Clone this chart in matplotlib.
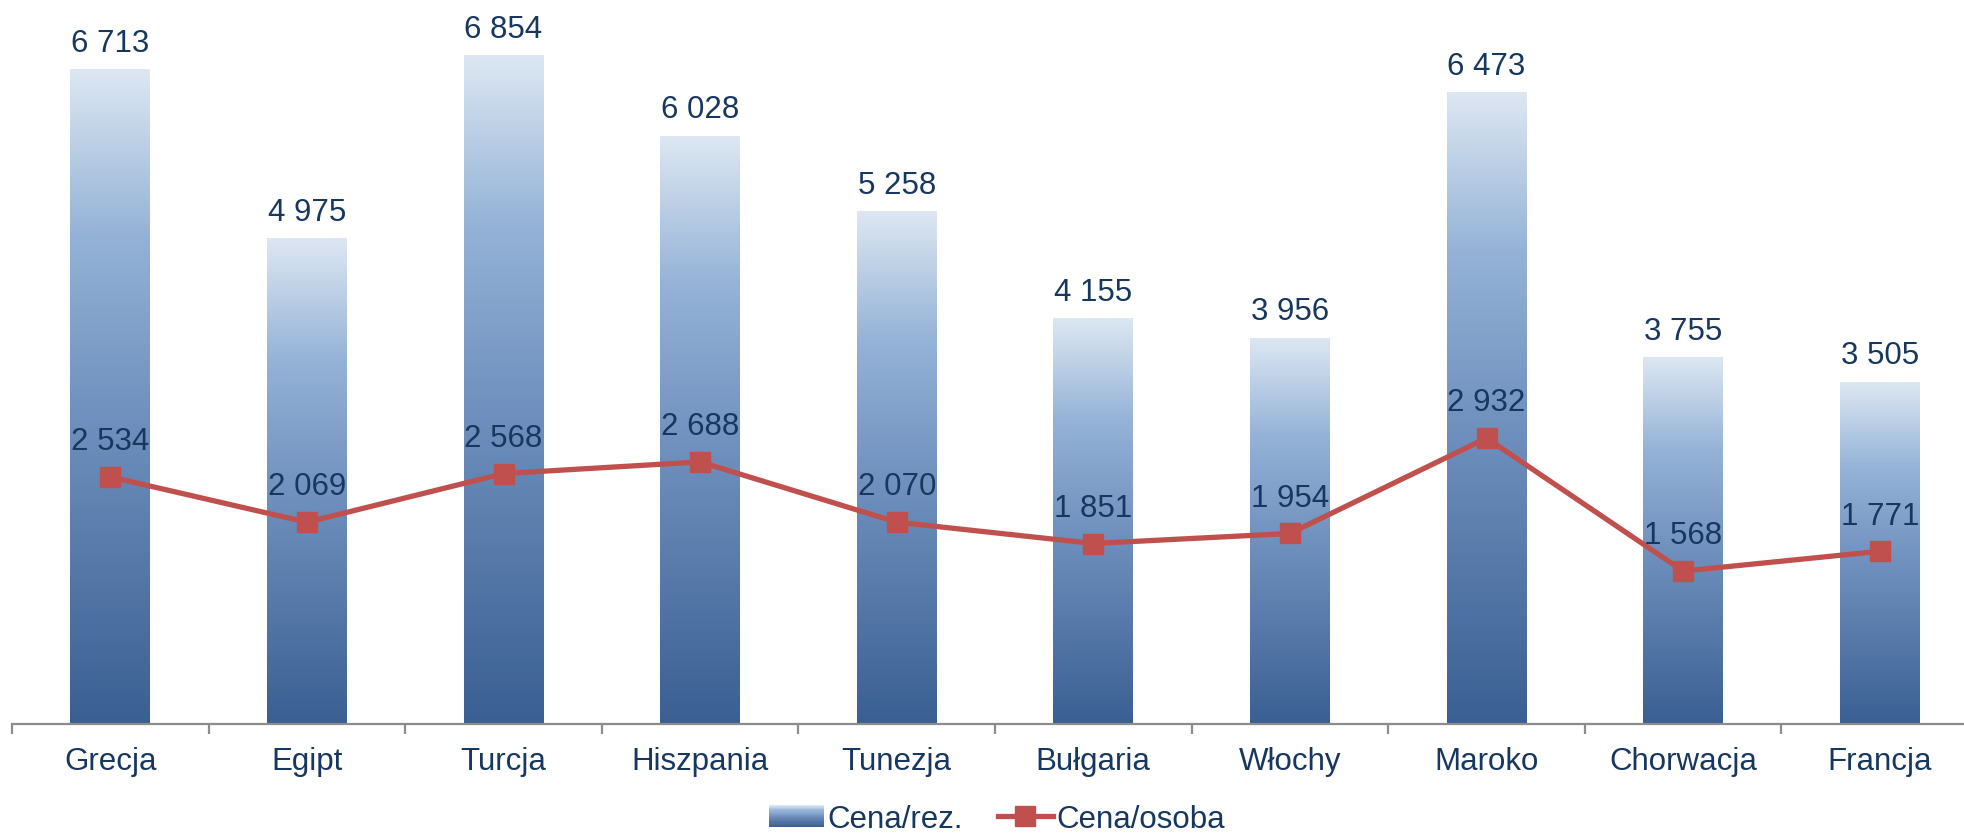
import matplotlib.pyplot as plt
import numpy as np
from matplotlib.colors import LinearSegmentedColormap
from matplotlib.patches import Rectangle
from matplotlib.lines import Line2D
from matplotlib.legend_handler import HandlerBase

plt.rcParams['font.family'] = ['Liberation Sans', 'DejaVu Sans']

# data
countries = ['Grecja', 'Egipt', 'Turcja', 'Hiszpania', 'Tunezja',
             'Bułgaria', 'Włochy', 'Maroko', 'Chorwacja', 'Francja']
price_res = [6713, 4975, 6854, 6028, 5258, 4155, 3956, 6473, 3755, 3505]
price_person = [2534, 2069, 2568, 2688, 2070, 1851, 1954, 2932, 1568, 1771]

text_color = '#17375e'
line_color = '#c0504d'
axis_color = '#8c8c8c'
fs = 22.5

# gradient: light at top, dark at bottom
grad = LinearSegmentedColormap.from_list(
    'bar', [(0.0, '#3a5f92'), (0.5, '#7394c1'), (0.75, '#95b3d7'), (1.0, '#dde7f2')])


def fmt(v):
    return '{:,}'.format(v).replace(',', ' ')


W, H = 1964, 837
fig = plt.figure(figsize=(W / 100, H / 100), dpi=100)
ax = fig.add_axes([12 / W, (H - 725) / H, 1966 / W, 725 / H])

x = np.arange(len(countries))
bars = ax.bar(x, price_res, width=0.405, color='none', edgecolor='none', zorder=2)
g = np.linspace(0, 1, 256).reshape(-1, 1)
for b in bars:
    x0, y0 = b.get_x(), b.get_y()
    ax.imshow(g, cmap=grad, origin='lower', aspect='auto', zorder=2,
              extent=(x0, x0 + b.get_width(), y0, y0 + b.get_height()))

ax.plot(x, price_person, color=line_color, lw=3.8, marker='s', ms=14,
        mec=line_color, mfc=line_color, zorder=3)

for xi, v in zip(x, price_res):
    ax.annotate(fmt(v), (xi, v), xytext=(0, 13.5), textcoords='offset points',
                ha='center', va='baseline', fontsize=fs, color=text_color, zorder=4)
for xi, v in zip(x, price_person):
    ax.annotate(fmt(v), (xi, v), xytext=(0, 20), textcoords='offset points',
                ha='center', va='baseline', fontsize=fs, color=text_color, zorder=4)

ax.set_xlim(-0.5, len(countries) - 0.5)
ax.set_ylim(0, 7435)

for s in ['top', 'right', 'left']:
    ax.spines[s].set_visible(False)
ax.spines['bottom'].set_color(axis_color)
ax.spines['bottom'].set_linewidth(1.6)
ax.set_yticks([])

ax.set_xticks(np.arange(len(countries) + 1) - 0.5)
ax.set_xticklabels([])
ax.tick_params(axis='x', which='major', length=7, width=1.6, color=axis_color, direction='out')
ax.set_xticks(x, minor=True)
ax.set_xticklabels(countries, minor=True, fontsize=fs, color=text_color)
ax.tick_params(axis='x', which='minor', length=0, pad=16)


class GradientHandler(HandlerBase):
    def create_artists(self, legend, orig, xd, yd, width, height, fontsize, trans):
        n = 20
        arts = []
        for i in range(n):
            r = Rectangle((xd, yd + height * i / n), width, height / n + 0.3,
                          facecolor=grad(i / (n - 1)), edgecolor='none', transform=trans)
            arts.append(r)
        return arts


bar_handle = Rectangle((0, 0), 1, 1)
line_handle = Line2D([], [], color=line_color, lw=3.8, marker='s', ms=14)
fig.legend([bar_handle, line_handle], ['Cena/rez.', 'Cena/osoba'],
           handler_map={Rectangle: GradientHandler()},
           loc='lower center', bbox_to_anchor=(0.5076, -0.031), ncol=2, frameon=False,
           fontsize=fs, labelcolor=text_color, handlelength=1.75, handletextpad=0.12,
           columnspacing=1.12)

fig.savefig('out.png', dpi=100)
